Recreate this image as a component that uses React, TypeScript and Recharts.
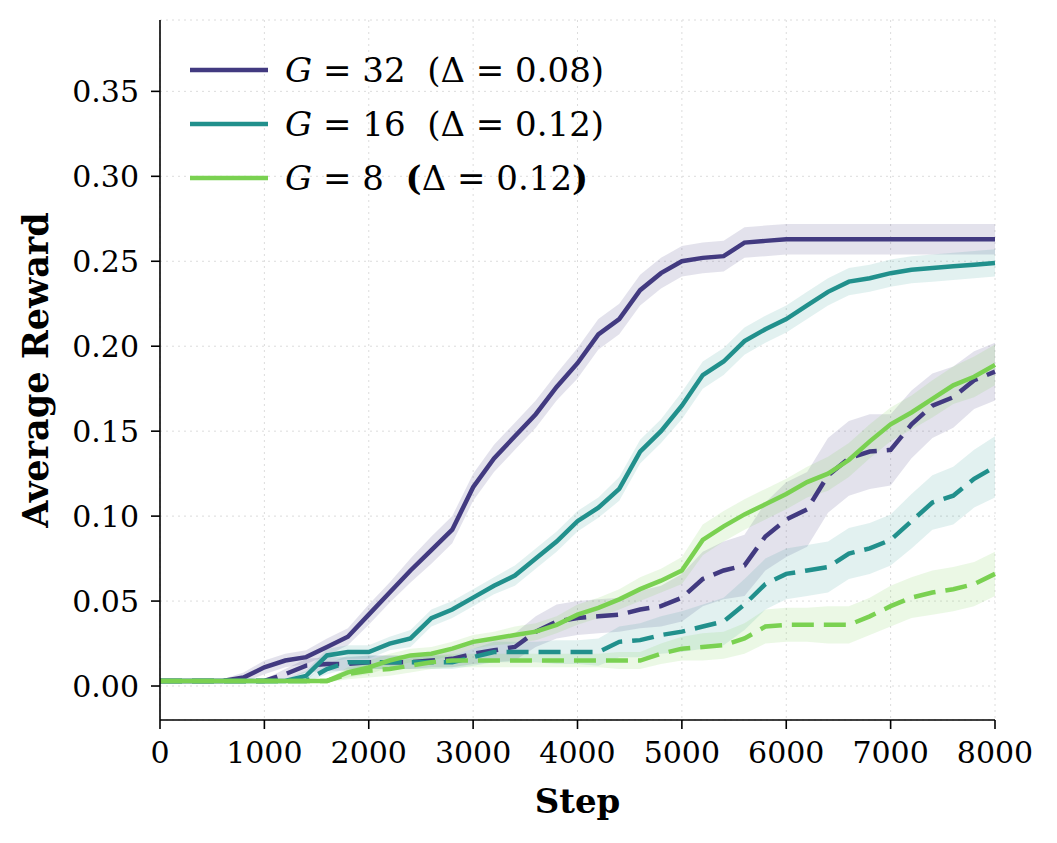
import React from 'react';
import { ComposedChart, Line, Area, XAxis, YAxis, CartesianGrid } from 'recharts';

// steps every 200
const steps = [
  0, 200, 400, 600, 800, 1000, 1200, 1400, 1600, 1800,
  2000, 2200, 2400, 2600, 2800, 3000, 3200, 3400, 3600, 3800,
  4000, 4200, 4400, 4600, 4800, 5000, 5200, 5400, 5600, 5800,
  6000, 6200, 6400, 6600, 6800, 7000, 7200, 7400, 7600, 7800, 8000,
];

// solid runs
const g32 = [
  0.003, 0.003, 0.003, 0.003, 0.005, 0.011, 0.015, 0.017, 0.023, 0.029,
  0.042, 0.055, 0.068, 0.080, 0.092, 0.117, 0.134, 0.147, 0.160, 0.176,
  0.190, 0.207, 0.216, 0.233, 0.243, 0.250, 0.252, 0.253, 0.261, 0.262,
  0.263, 0.263, 0.263, 0.263, 0.263, 0.263, 0.263, 0.263, 0.263, 0.263, 0.263,
];
const g16 = [
  0.003, 0.003, 0.003, 0.003, 0.003, 0.003, 0.003, 0.006, 0.018, 0.020,
  0.020, 0.025, 0.028, 0.040, 0.045, 0.052, 0.059, 0.065, 0.075, 0.085,
  0.097, 0.105, 0.116, 0.138, 0.150, 0.165, 0.183, 0.191, 0.203, 0.210,
  0.216, 0.224, 0.232, 0.238, 0.240, 0.243, 0.245, 0.246, 0.247, 0.248, 0.249,
];
const g8 = [
  0.003, 0.003, 0.003, 0.003, 0.003, 0.003, 0.003, 0.003, 0.003, 0.008,
  0.011, 0.015, 0.018, 0.019, 0.022, 0.026, 0.028, 0.030, 0.032, 0.036,
  0.042, 0.046, 0.051, 0.057, 0.062, 0.068, 0.086, 0.094, 0.101, 0.107,
  0.113, 0.120, 0.125, 0.133, 0.144, 0.154, 0.161, 0.169, 0.177, 0.182, 0.189,
];

// dashed runs
const g32d = [
  0.003, 0.003, 0.003, 0.003, 0.003, 0.003, 0.007, 0.012, 0.013, 0.013,
  0.014, 0.014, 0.014, 0.015, 0.016, 0.019, 0.021, 0.023, 0.032, 0.038,
  0.040, 0.041, 0.042, 0.045, 0.047, 0.052, 0.063, 0.068, 0.071, 0.088,
  0.098, 0.104, 0.124, 0.134, 0.138, 0.139, 0.154, 0.165, 0.170, 0.180, 0.185,
];
const g16d = [
  0.003, 0.003, 0.003, 0.003, 0.003, 0.003, 0.003, 0.003, 0.010, 0.014,
  0.014, 0.014, 0.014, 0.014, 0.014, 0.017, 0.020, 0.020, 0.020, 0.020,
  0.020, 0.020, 0.026, 0.027, 0.030, 0.032, 0.035, 0.038, 0.048, 0.060,
  0.066, 0.068, 0.070, 0.078, 0.081, 0.086, 0.097, 0.108, 0.112, 0.122, 0.129,
];
const g8d = [
  0.003, 0.003, 0.003, 0.003, 0.003, 0.003, 0.003, 0.003, 0.003, 0.007,
  0.009, 0.010, 0.012, 0.014, 0.015, 0.015, 0.015, 0.015, 0.015, 0.015,
  0.015, 0.015, 0.015, 0.015, 0.019, 0.022, 0.023, 0.024, 0.028, 0.035,
  0.036, 0.036, 0.036, 0.036, 0.041, 0.047, 0.052, 0.055, 0.057, 0.060, 0.066,
];

// half-width of shaded bands
const s32 = [
  0.001, 0.001, 0.001, 0.001, 0.003, 0.004, 0.004, 0.004, 0.005, 0.005,
  0.006, 0.006, 0.007, 0.008, 0.008, 0.008, 0.008, 0.008, 0.008, 0.008,
  0.009, 0.009, 0.009, 0.009, 0.009, 0.009, 0.009, 0.009, 0.009, 0.009,
  0.009, 0.009, 0.009, 0.009, 0.009, 0.009, 0.009, 0.009, 0.009, 0.009, 0.009,
];
const s16 = [
  0.001, 0.001, 0.001, 0.001, 0.001, 0.001, 0.001, 0.003, 0.004, 0.004,
  0.004, 0.004, 0.005, 0.005, 0.005, 0.005, 0.005, 0.006, 0.006, 0.006,
  0.006, 0.006, 0.007, 0.007, 0.007, 0.008, 0.008, 0.008, 0.008, 0.008,
  0.008, 0.008, 0.008, 0.008, 0.008, 0.008, 0.008, 0.008, 0.008, 0.008, 0.008,
];
const s8 = [
  0.001, 0.001, 0.001, 0.001, 0.001, 0.001, 0.001, 0.001, 0.001, 0.003,
  0.004, 0.004, 0.004, 0.004, 0.004, 0.004, 0.004, 0.005, 0.005, 0.005,
  0.006, 0.006, 0.006, 0.007, 0.007, 0.008, 0.009, 0.009, 0.009, 0.009,
  0.009, 0.009, 0.010, 0.010, 0.010, 0.010, 0.010, 0.011, 0.011, 0.012, 0.012,
];
const s32d = [
  0.001, 0.001, 0.001, 0.001, 0.001, 0.001, 0.003, 0.004, 0.004, 0.004,
  0.004, 0.004, 0.004, 0.004, 0.005, 0.006, 0.007, 0.008, 0.009, 0.010,
  0.010, 0.010, 0.010, 0.011, 0.012, 0.014, 0.016, 0.017, 0.018, 0.020,
  0.022, 0.022, 0.022, 0.022, 0.022, 0.021, 0.020, 0.019, 0.018, 0.017, 0.017,
];
const s16d = [
  0.001, 0.001, 0.001, 0.001, 0.001, 0.001, 0.001, 0.001, 0.003, 0.004,
  0.004, 0.004, 0.004, 0.004, 0.004, 0.005, 0.006, 0.006, 0.006, 0.007,
  0.007, 0.008, 0.009, 0.010, 0.011, 0.012, 0.013, 0.014, 0.015, 0.015,
  0.015, 0.015, 0.015, 0.015, 0.015, 0.015, 0.016, 0.016, 0.017, 0.017, 0.018,
];
const s8d = [
  0.001, 0.001, 0.001, 0.001, 0.001, 0.001, 0.001, 0.001, 0.001, 0.003,
  0.004, 0.004, 0.004, 0.004, 0.004, 0.004, 0.004, 0.004, 0.004, 0.004,
  0.004, 0.004, 0.005, 0.005, 0.006, 0.007, 0.008, 0.008, 0.009, 0.010,
  0.010, 0.010, 0.011, 0.011, 0.011, 0.012, 0.012, 0.013, 0.013, 0.013, 0.013,
];

const xTicks = [0, 1000, 2000, 3000, 4000, 5000, 6000, 7000, 8000];
const yTicks = [0, 0.05, 0.1, 0.15, 0.2, 0.25, 0.3, 0.35];

const C32 = '#423a80';
const C16 = '#21908c';
const C8 = '#7ad151';
const FONT = '"DejaVu Serif", serif';

const band = (m: number[], s: number[], i: number) => [m[i] - s[i], m[i] + s[i]];

const data = steps.map((step, i) => ({
  step,
  g32: g32[i], g16: g16[i], g8: g8[i],
  g32d: g32d[i], g16d: g16d[i], g8d: g8d[i],
  b32: band(g32, s32, i), b16: band(g16, s16, i), b8: band(g8, s8, i),
  b32d: band(g32d, s32d, i), b16d: band(g16d, s16d, i), b8d: band(g8d, s8d, i),
}));

const legendItems = [
  { color: C32, g: '32', delta: '0.08', boldParen: false },
  { color: C16, g: '16', delta: '0.12', boldParen: false },
  { color: C8, g: '8', delta: '0.12', boldParen: true },
];

function MathLegend() {
  return (
    <svg width={500} height={170} style={{ position: 'absolute', left: 180, top: 40 }}>
      {legendItems.map((it, i) => {
        const y = 30 + i * 54;
        return (
          <g key={it.g}>
            <line x1={10} x2={88} y1={y} y2={y} stroke={it.color} strokeWidth={4.5} />
            <text x={105} y={y + 12} fontFamily={FONT} fontSize={34} fill="#000">
              <tspan fontStyle="italic">G</tspan>
              <tspan> = {it.g}{'\u00a0\u00a0'}</tspan>
              <tspan fontWeight={it.boldParen ? 'bold' : 'normal'}>(</tspan>
              <tspan>Δ = {it.delta}</tspan>
              <tspan fontWeight={it.boldParen ? 'bold' : 'normal'}>)</tspan>
            </text>
          </g>
        );
      })}
    </svg>
  );
}

export default function App() {
  const tick = { fontFamily: FONT, fontSize: 30, fill: '#000' };
  return (
    <div style={{ position: 'absolute', left: 0, top: 0, width: 1057, height: 843, background: '#fff' }}>
      <ComposedChart width={1057} height={843} data={data} margin={{ top: 20, right: 62, bottom: 0, left: 0 }}>
        <CartesianGrid stroke="#dcdcdc" strokeDasharray="2 4" strokeWidth={1} />
        <XAxis
          dataKey="step"
          type="number"
          domain={[0, 8000]}
          ticks={xTicks}
          height={123}
          tick={tick}
          tickSize={9}
          tickMargin={13}
          stroke="#000"
          strokeWidth={1.6}
          label={{ value: 'Step', position: 'insideBottom', offset: 30, fontFamily: FONT, fontSize: 34, fontWeight: 'bold', fill: '#000' }}
        />
        <YAxis
          type="number"
          domain={[-0.02, 0.392]}
          ticks={yTicks}
          allowDataOverflow
          width={160}
          tick={tick}
          tickSize={9}
          tickMargin={12}
          stroke="#000"
          strokeWidth={1.6}
          tickFormatter={(v: number) => v.toFixed(2)}
          label={{ value: 'Average Reward', angle: -90, position: 'insideLeft', offset: 36, fontFamily: FONT, fontSize: 35, fontWeight: 'bold', fill: '#000', style: { textAnchor: 'middle' } }}
        />
        <Area dataKey="b32" type="linear" stroke="none" fill={C32} fillOpacity={0.15} isAnimationActive={false} />
        <Area dataKey="b32d" type="linear" stroke="none" fill={C32} fillOpacity={0.15} isAnimationActive={false} />
        <Area dataKey="b16" type="linear" stroke="none" fill={C16} fillOpacity={0.13} isAnimationActive={false} />
        <Area dataKey="b16d" type="linear" stroke="none" fill={C16} fillOpacity={0.13} isAnimationActive={false} />
        <Area dataKey="b8" type="linear" stroke="none" fill={C8} fillOpacity={0.15} isAnimationActive={false} />
        <Area dataKey="b8d" type="linear" stroke="none" fill={C8} fillOpacity={0.15} isAnimationActive={false} />
        <Line dataKey="g32" type="linear" stroke={C32} strokeWidth={4.5} dot={false} isAnimationActive={false} />
        <Line dataKey="g32d" type="linear" stroke={C32} strokeWidth={4.5} strokeDasharray="22 10" dot={false} isAnimationActive={false} />
        <Line dataKey="g16" type="linear" stroke={C16} strokeWidth={4.5} dot={false} isAnimationActive={false} />
        <Line dataKey="g16d" type="linear" stroke={C16} strokeWidth={4.5} strokeDasharray="22 10" dot={false} isAnimationActive={false} />
        <Line dataKey="g8" type="linear" stroke={C8} strokeWidth={4.5} dot={false} isAnimationActive={false} />
        <Line dataKey="g8d" type="linear" stroke={C8} strokeWidth={4.5} strokeDasharray="22 10" dot={false} isAnimationActive={false} />
      </ComposedChart>
      <MathLegend />
    </div>
  );
}
